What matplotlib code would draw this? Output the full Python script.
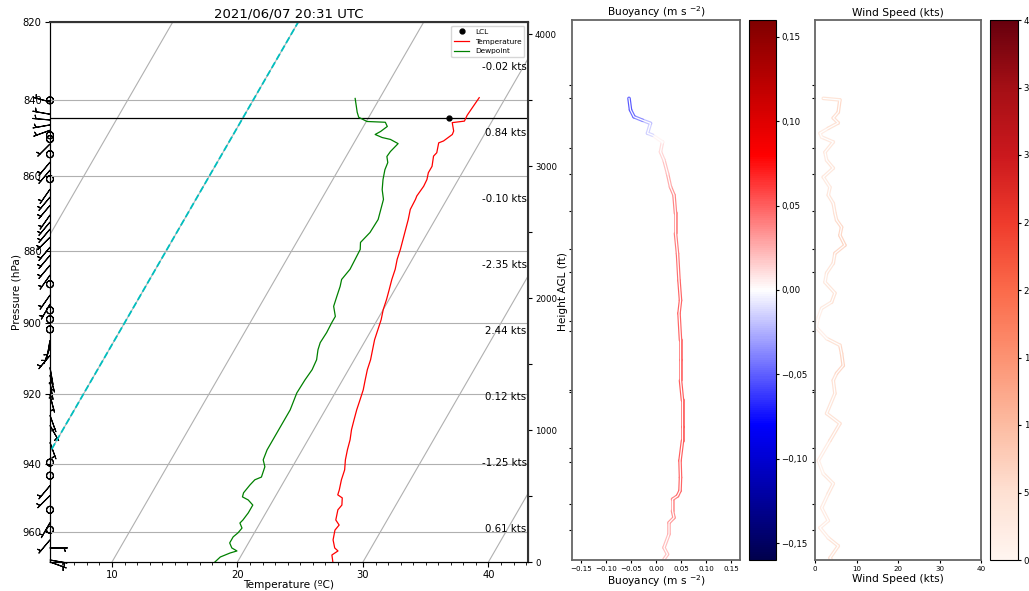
import numpy as np
import matplotlib
matplotlib.use('Agg')
import matplotlib.pyplot as plt
from matplotlib.transforms import Affine2D, blended_transform_factory
from matplotlib.collections import LineCollection
from matplotlib.colors import Normalize
from matplotlib.cm import ScalarMappable
from matplotlib.lines import Line2D
from matplotlib.ticker import FixedLocator, NullLocator, FuncFormatter, MultipleLocator

# sounding: temperature profile (hPa, degC)
t_pres = [968.9, 966.8, 965.6, 964.7, 962.3, 959.4, 957.9, 956.4, 953.4, 952.0,
          949.9, 949.0, 947.6, 944.6, 941.7, 938.8, 935.9, 933.0, 930.1, 927.3,
          924.4, 921.5, 918.7, 915.9, 913.0, 910.2, 907.4, 904.6, 901.8, 899.0,
          896.2, 893.4, 890.6, 887.9, 885.1, 882.4, 879.7, 877.0, 874.3, 871.6,
          868.9, 866.2, 865.3, 862.7, 860.9, 859.1, 857.4, 854.7, 853.8, 851.2,
          850.7, 849.0, 848.1, 845.9, 845.5, 844.0, 842.4, 839.4]
temp = [27.6, 27.2, 27.5, 27.1, 26.6, 26.3, 26.4, 25.9, 25.6, 25.7,
        25.4, 24.9, 24.8, 24.5, 24.3, 23.9, 23.6, 23.35, 23.0, 22.75,
        22.5, 22.3, 22.1, 21.8, 21.5, 21.3, 21.0, 20.7, 20.5, 20.3,
        20.0, 19.8, 19.55, 19.3, 19.1, 18.8, 18.6, 18.35, 18.1, 17.85,
        17.55, 17.5, 17.45, 17.55, 17.5, 17.3, 17.3, 16.95, 17.05, 16.75,
        17.05, 17.45, 17.4, 16.9, 17.8, 17.75, 17.8, 17.9]

# dewpoint profile
td_pres = [968.9, 967.4, 966.2, 965.6, 964.7, 963.2, 961.4, 960.2, 958.8, 957.3,
           956.4, 954.3, 952.0, 950.5, 949.6, 948.4, 946.1, 944.6, 943.8, 940.8,
           938.8, 935.9, 933.0, 928.1, 924.4, 919.6, 915.9, 913.0, 910.2, 907.4,
           905.4, 902.6, 899.8, 898.1, 895.3, 892.6, 889.8, 887.9, 885.1, 882.4,
           879.7, 877.8, 875.1, 871.6, 866.2, 863.6, 860.9, 858.3, 856.4, 854.8,
           853.5, 851.4, 850.3, 849.8, 849.0, 848.2, 846.9, 845.8, 845.6, 844.5,
           843.2, 839.6]
dewp = [18.2, 18.4, 19.0, 19.45, 18.9, 18.5, 18.5, 18.7, 18.8, 18.4,
        18.5, 18.6, 18.6, 18.0, 17.4, 17.3, 17.45, 17.6, 18.0, 17.8,
        17.35, 17.2, 17.2, 17.2, 17.2, 16.95, 17.0, 17.1, 17.0, 16.65,
        16.5, 16.55, 16.5, 16.5, 15.9, 15.7, 15.5, 15.3, 15.5, 15.45,
        15.4, 15.1, 15.4, 15.45, 14.95, 14.4, 14.0, 13.7, 13.6, 13.25,
        13.3, 13.55, 12.75, 12.0, 11.3, 11.6, 11.9, 11.55, 10.05, 9.2,
        8.85, 8.05]

lcl_pres = 844.6
lcl_temp = 16.4

# wind (kts, direction wind blows from)
w_pres = [968.9, 968.3, 964.7, 962.3, 959.3, 957.2, 953.4, 949.2, 946.3, 943.4,
          939.6, 933.8, 928.9, 926.0, 920.3, 916.6, 914.6, 912.4, 909.0, 906.7,
          904.8, 901.7, 898.9, 896.4, 894.7, 892.2, 889.2, 886.7, 884.0, 881.3,
          879.1, 876.4, 874.2, 872.3, 870.4, 867.8, 865.6, 863.5, 860.8, 858.4,
          856.3, 854.2, 851.5, 850.2, 849.2, 847.9, 846.5, 845.2, 843.7, 840.5,
          840.1]
w_speed = [4.0, 3.6, 5.6, 3.2, 1.2, 3.2, 1.6, 3.2, 4.4, 2.0,
           0.8, 3.6, 6.0, 2.8, 4.8, 4.4, 5.2, 6.8, 6.4, 6.0,
           2.8, 0.3, 0.8, 1.6, 4.0, 4.8, 2.4, 2.8, 4.4, 4.8,
           7.2, 6.0, 6.4, 5.2, 4.8, 4.4, 3.2, 3.6, 2.0, 4.4,
           2.8, 2.4, 4.4, 1.6, 1.2, 3.2, 5.6, 4.4, 5.6, 6.0,
           2.0]
w_dir = [110, 100, 90, 220, 200, 210, 200, 225, 220, 215,
         200, 160, 150, 160, 165, 170, 165, 170, 220, 200,
         190, 200, 200, 200, 210, 215, 215, 215, 220, 220,
         220, 225, 220, 220, 215, 220, 220, 215, 220, 220,
         220, 215, 225, 240, 250, 250, 260, 275, 280, 285,
         280]

# buoyancy (m s-2)
b_pres = [968.7, 967.2, 965.2, 961.2, 957.8, 956.3, 954.3, 950.9, 949.9, 948.4,
          944.5, 939.6, 933.8, 929.9, 922.3, 916.6, 910.9, 905.3, 897.8, 894.2,
          888.7, 881.4, 875.9, 870.5, 865.6, 863.4, 859.8, 856.3, 854.1, 851.5,
          849.7, 849.2, 846.6, 845.8, 844.9, 843.1, 840.1]
buoy = [0.016, 0.023, 0.016, 0.026, 0.026, 0.036, 0.033, 0.033, 0.043, 0.048,
        0.049, 0.048, 0.053, 0.053, 0.053, 0.049, 0.049, 0.049, 0.046, 0.049,
        0.046, 0.043, 0.039, 0.039, 0.036, 0.029, 0.023, 0.016, 0.009, 0.013,
        -0.007, -0.017, -0.011, -0.027, -0.044, -0.051, -0.054]

# layer values written on the right edge (ft AGL)
layer_hgt = [250, 750, 1250, 1750, 2250, 2750, 3250, 3750]
layer_txt = ['0.61', '-1.25', '0.12', '2.44', '-2.35', '-0.10', '0.84', '-0.02']

p_bot, p_top = 968.9, 820
plevels = [820, 840, 860, 880, 900, 920, 940, 960]
panel_ticks = [836.7, 840, 853.1, 860, 869.9, 880, 886.5, 900, 902.8, 919.4, 920,
               935.8, 940, 952.4, 960]

W, H = 1029, 591
fig = plt.figure(figsize=(W / 100, H / 100), dpi=100)


def px_axes(x0, y0, x1, y1):
    return fig.add_axes([x0 / W, 1 - y1 / H, (x1 - x0) / W, (y1 - y0) / H])


# ---- skew-T ----
ax = px_axes(50, 22, 528, 562)
ax.set_yscale('log')
ax.set_ylim(p_bot, p_top)
ax.set_xlim(5.06, 43.15)
k = np.tan(np.radians(30)) * 540 / 478
skew = ax.transScale + ax.transLimits + Affine2D(np.array([[1, k, 0], [0, 1, 0], [0, 0, 1]])) + ax.transAxes

for t in range(-20, 60, 10):
    ax.plot([t, t], [p_bot, p_top], color='#b0b0b0', lw=0.8, transform=skew, zorder=1)
ax.yaxis.set_major_locator(FixedLocator(plevels))
ax.yaxis.set_major_formatter(FuncFormatter(lambda v, _: f'{v:.0f}'))
ax.yaxis.set_minor_locator(NullLocator())
ax.grid(axis='y', color='#b0b0b0', lw=0.8, zorder=1)
ax.set_xticks([10, 20, 30, 40])
ax.xaxis.set_minor_locator(MultipleLocator(1))
ax.tick_params(labelsize=7.2, length=3.5, width=0.8, pad=2.5)
ax.tick_params(which='minor', length=2, width=0.6)

ax.plot([0, 0], [p_bot, p_top], color='c', ls='--', lw=1.3, transform=skew)
ax.axhline(lcl_pres, color='k', lw=0.9)
ax.plot(temp, t_pres, color='red', lw=0.9, transform=skew)
ax.plot(dewp, td_pres, color='green', lw=0.9, transform=skew)
ax.plot([lcl_temp], [lcl_pres], 'ko', ms=3.5, transform=skew)

spd = np.array(w_speed)
rad = np.radians(w_dir)
u = -spd * np.sin(rad)
v = -spd * np.cos(rad)
ax.barbs(np.zeros(len(w_pres)), w_pres, u, v, length=5.0, lw=0.8, clip_on=False,
         sizes=dict(emptybarb=0.2), transform=blended_transform_factory(ax.transAxes, ax.transData))

handles = [Line2D([], [], color='k', marker='o', ls='', ms=3.5),
           Line2D([], [], color='red', lw=0.9),
           Line2D([], [], color='green', lw=0.9)]
ax.legend(handles, ['LCL', 'Temperature', 'Dewpoint'], loc='upper right', fontsize=5.3)
ax.set_title('2021/06/07 20:31 UTC', fontsize=9.5, pad=3)
ax.set_ylabel('Pressure (hPa)', fontsize=7.6, labelpad=1)
ax.set_xlabel('Temperature (ºC)', fontsize=7.6, labelpad=0)

ax2 = ax.twinx()
ax2.set_ylim(0, 4091)
ax2.set_yticks([0, 1000, 2000, 3000, 4000])
ax2.yaxis.set_minor_locator(MultipleLocator(500))
ax2.tick_params(labelsize=6.2, length=3, width=0.8, pad=2)
ax2.tick_params(which='minor', length=3, width=0.8)
ax2.set_ylabel('Height AGL (ft)', fontsize=7.6, labelpad=1)
ax2.spines['right'].set_linewidth(1.5)
ax2.spines['right'].set_color('#333333')
ax2.spines['top'].set_linewidth(1.5)
ax2.spines['top'].set_color('#333333')
txt_tr = blended_transform_factory(ax2.transAxes, ax2.transData)
for h, s in zip(layer_hgt, layer_txt):
    ax2.text(0.997, h, s + ' kts', transform=txt_tr, ha='right', va='center', fontsize=7.4)


def tube(axp, x, y, cmap, norm):
    pts = np.column_stack([x, y])
    segs = np.stack([pts[:-1], pts[1:]], axis=1)
    lc = LineCollection(segs, cmap=cmap, norm=norm, lw=2.6, capstyle='round')
    lc.set_array((np.array(x[:-1]) + np.array(x[1:])) / 2)
    axp.add_collection(lc)
    axp.plot(x, y, color='white', lw=0.9)


def panel(axp):
    axp.set_yscale('log')
    axp.set_ylim(p_bot, p_top)
    axp.yaxis.set_major_locator(FixedLocator(panel_ticks))
    axp.yaxis.set_minor_locator(NullLocator())
    axp.set_yticklabels([])
    axp.tick_params(axis='y', length=2.5, width=0.8)
    axp.tick_params(axis='x', labelsize=5.1, length=2.5, width=0.8, pad=2)
    for sp in axp.spines.values():
        sp.set_color('#666666')
        sp.set_linewidth(1.3)


def comma(v, _):
    v = round(v, 2) + 0.0
    return f'{v:.2f}'.replace('.', ',').replace('-', '\u2212')


# ---- buoyancy ----
bnorm = Normalize(-0.16, 0.16)
axb = px_axes(572, 20, 740, 560)
panel(axb)
axb.set_xlim(-0.168, 0.168)
axb.set_xticks(np.round(np.arange(-0.15, 0.151, 0.05), 2))
tube(axb, buoy, b_pres, 'seismic', bnorm)
axb.set_title('Buoyancy (m s $^{-2}$)', fontsize=7.7, pad=3)
axb.set_xlabel('Buoyancy (m s $^{-2}$)', fontsize=7.7, labelpad=1)

cax1 = px_axes(749, 20, 776, 560)
cb1 = fig.colorbar(ScalarMappable(norm=bnorm, cmap='seismic'), cax=cax1)
cb1.set_ticks(np.round(np.arange(-0.15, 0.151, 0.05), 2))
cb1.ax.yaxis.set_major_formatter(FuncFormatter(comma))
cb1.ax.tick_params(labelsize=6.2, length=2.5, width=0.8, pad=1.5)

# ---- wind speed ----
wnorm = Normalize(0, 40)
axw = px_axes(815, 20, 981, 560)
panel(axw)
axw.set_xlim(0, 40)
axw.set_xticks([0, 10, 20, 30, 40])
tube(axw, w_speed, w_pres, 'Reds', wnorm)
axw.set_title('Wind Speed (kts)', fontsize=7.7, pad=3)
axw.set_xlabel('Wind Speed (kts)', fontsize=7.7, labelpad=1)

cax2 = px_axes(990, 20, 1018, 560)
cb2 = fig.colorbar(ScalarMappable(norm=wnorm, cmap='Reds'), cax=cax2)
cb2.set_ticks(range(0, 41, 5))
cb2.ax.tick_params(labelsize=6.2, length=2.5, width=0.8, pad=1.5)

fig.savefig('out.png', dpi=100)
